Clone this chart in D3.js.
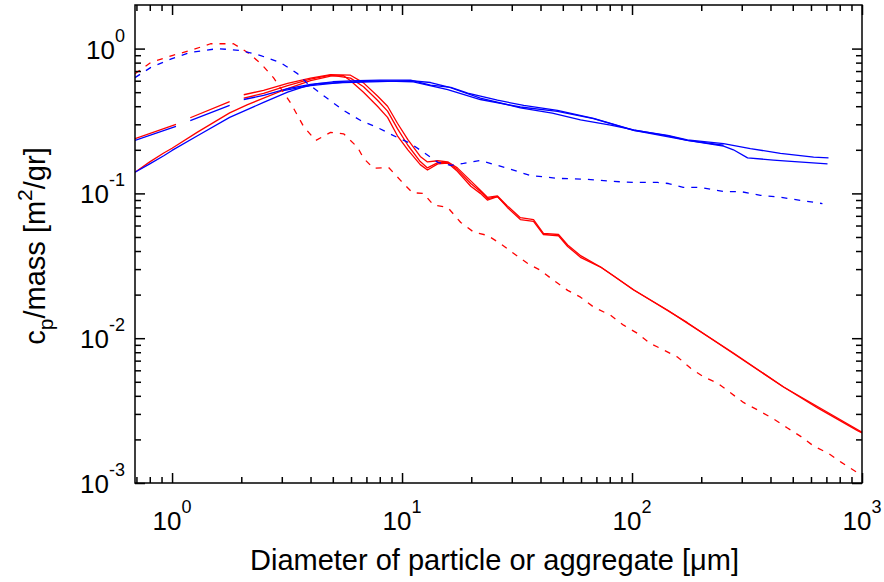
<!DOCTYPE html>
<html>
<head>
<meta charset="utf-8">
<script src="https://cdn.jsdelivr.net/npm/d3@7"></script>
<style>
  html, body { margin: 0; padding: 0; background: #fff; }
  svg { display: block; }
  text { font-family: "Liberation Sans", Arial, Helvetica, sans-serif; fill: #000; }
</style>
</head>
<body>
<svg id="chart" width="884" height="582"></svg>
<script>
// Axis ranges (log-log)
const xDomain = [0.69, 1000];
const yDomain = [0.001, 2];
const xMajorTicks = [1, 10, 100, 1000];
const yMajorTicks = [0.001, 0.01, 0.1, 1];
const xTickExponents = ["0", "1", "2", "3"];
const yTickExponents = ["-3", "-2", "-1", "0"];

// Each series: [diameter in µm, cross-section per mass in m²/gr]; null marks a break in the line
const redSolidLow = [
  [0.69,0.140],[0.80,0.165],[0.92,0.190],[1.00,0.205],[1.29,0.265],[1.78,0.360],[2.13,0.410],
  [2.50,0.455],[3.18,0.530],[4.00,0.600],[4.89,0.645],[5.57,0.650],[5.97,0.600],[6.80,0.500],
  [7.82,0.400],[8.65,0.335],[9.55,0.250],[10.6,0.200],[12.0,0.158],[12.9,0.145],[14.3,0.160],
  [15.8,0.162],[17.4,0.142],[19.9,0.112],[21.9,0.100],[23.5,0.090],[26.0,0.095],[28.7,0.080],
  [32.7,0.066],[37.3,0.064],[41.2,0.052],[47.9,0.051],[52.5,0.043],[60.0,0.036],[73.0,0.031],
  [83.0,0.027],[101.6,0.0215],[143,0.0156],[174,0.0127],[276,0.0079],[456,0.0046],[641,0.0033],
  [956,0.0023],[1000,0.00222]
];
const redSolidUp = [
  [0.69,0.239],[1.04,0.300],null,[1.20,0.333],[1.78,0.430],null,
  [2.05,0.480],[2.50,0.515],[3.18,0.575],[4.00,0.625],[4.89,0.660],[5.97,0.655],[6.80,0.580],
  [7.82,0.470],[8.65,0.400],[9.55,0.305],[10.6,0.235],[12.0,0.180],[12.9,0.165],[14.3,0.168],
  [15.8,0.165],[17.4,0.150],[19.9,0.122],[21.9,0.105],[23.5,0.094],[26.0,0.096],[28.7,0.082],
  [32.7,0.068],[37.3,0.066],[41.2,0.053],[47.9,0.052],[52.5,0.044],[60.0,0.037],[73.0,0.031],
  [101.6,0.0216],[174,0.0128],[456,0.0046],[1000,0.00224]
];
const redSolidMid = [
  [2.05,0.455],[2.50,0.490],[3.18,0.555],[4.00,0.615],[4.89,0.655],[5.97,0.625],[6.80,0.545],
  [7.82,0.440],[8.65,0.370],[9.55,0.280],[10.6,0.215],[12.0,0.166],[12.9,0.150],[14.3,0.163],
  [15.8,0.163],[17.4,0.146],[19.9,0.117],[21.9,0.103],[23.5,0.092],[26.0,0.095],[28.7,0.081]
];
const blueSolidLow = [
  [0.69,0.140],[0.80,0.160],[0.92,0.182],[1.00,0.198],[1.29,0.250],[1.78,0.335],[2.50,0.425],
  [3.18,0.500],[3.73,0.545],[4.29,0.572],[5.57,0.583],[8.00,0.592],[10.9,0.600],[13.3,0.583],
  [15.8,0.545],[21.9,0.455],[32.7,0.390],[45.0,0.358],[59.7,0.322],[80.7,0.296],[101.6,0.275],
  [143,0.250],[174,0.232],[250,0.212],[276,0.200],[318,0.176],[412,0.170],[474,0.167],[708,0.160]
];
const blueSolidUp = [
  [0.69,0.232],[1.04,0.290],null,[1.20,0.318],[1.78,0.405],null,
  [2.05,0.445],[2.50,0.475],[3.18,0.530],[4.00,0.565],[5.00,0.590],[6.40,0.600],[8.00,0.605],
  [10.9,0.605],[13.3,0.560],[16.3,0.540],[19.3,0.492],[26.0,0.440],[33.8,0.405],[47.4,0.374],
  [68.0,0.330],[101.6,0.273],[143,0.252],[174,0.234],[250,0.221],[327,0.204],[442,0.189],
  [616,0.178],[715,0.176]
];
const blueSolidMid = [
  [3.00,0.510],[4.00,0.555],[5.50,0.585],[8.00,0.598],[11.2,0.590],[15.8,0.520],[21.9,0.445],
  [32.7,0.395],[47.4,0.368],[68.0,0.328],[101.6,0.272],[174,0.232],[250,0.215]
];
const redDashed = [
  [0.69,0.670],[0.806,0.800],[1.00,0.895],[1.20,0.970],[1.47,1.080],[1.85,1.080],[2.13,0.940],
  [2.43,0.790],[2.76,0.630],[3.28,0.420],[3.73,0.290],[4.21,0.232],[4.89,0.264],[5.57,0.258],
  [6.41,0.208],[6.80,0.175],[7.52,0.149],[8.74,0.151],[9.85,0.123],[11.1,0.101],[12.4,0.100],
  [13.7,0.083],[15.8,0.080],[18.0,0.063],[20.5,0.054],[23.5,0.0513],[26.8,0.045],[30.5,0.0386],
  [35.1,0.0329],[40.0,0.0294],[45.6,0.0251],[52.5,0.0214],[59.7,0.0192],[68.1,0.0164],
  [80.7,0.0144],[91.9,0.0123],[105.6,0.0108],[120,0.0092],[137,0.0083],[158,0.0074],[180,0.0062],
  [205,0.0054],[235,0.0049],[268,0.0042],[305,0.0036],[351,0.0032],[408,0.0028],[474,0.0024],
  [541,0.0021],[616,0.0018],[715,0.0016],[807,0.0014],[938,0.0012],[1000,0.00112]
];
const blueDashed = [
  [0.69,0.630],[0.806,0.739],[1.00,0.853],[1.20,0.940],[1.58,1.000],[1.99,0.970],[2.43,0.895],
  [2.96,0.800],[3.51,0.672],[3.88,0.574],[4.74,0.452],[5.57,0.374],[6.61,0.319],[7.82,0.285],
  [9.55,0.243],[10.9,0.221],[12.4,0.192],[14.3,0.164],[16.3,0.156],[18.5,0.161],[21.9,0.169],
  [28.7,0.149],[36.2,0.133],[47.4,0.127],[64.0,0.125],[83.0,0.121],[101.6,0.119],[129,0.119],
  [144,0.117],[167,0.110],[199,0.110],[250,0.103],[296,0.103],[362,0.097],[442,0.094],
  [541,0.0895],[673,0.085]
];

const xLabel = "Diameter of particle or aggregate [\u03bcm]";

// Plot box
const boxLeft = 135, boxRight = 862, boxTop = 5, boxBottom = 483;

const svg = d3.select("#chart");
const x = d3.scaleLog().domain(xDomain).range([boxLeft, boxRight]);
const y = d3.scaleLog().domain(yDomain).range([boxBottom, boxTop]);

// minor ticks: 2..9 × each decade inside the domain
function minorTicks(domain) {
  const out = [];
  for (let e = -4; e <= 4; e++) {
    for (let m = 2; m <= 9; m++) {
      const v = m * Math.pow(10, e);
      if (v > domain[0] * 1.0001 && v < domain[1] * 0.9999) out.push(v);
    }
  }
  return out;
}
const xMinor = minorTicks(xDomain);
const yMinor = minorTicks(yDomain);

svg.append("defs").append("clipPath").attr("id", "plotClip")
  .append("rect").attr("x", boxLeft).attr("y", boxTop)
  .attr("width", boxRight - boxLeft).attr("height", boxBottom - boxTop);

const series = [
  { data: redSolidLow, color: "#ff0000", dash: null },
  { data: redSolidMid, color: "#ff0000", dash: null },
  { data: redSolidUp, color: "#ff0000", dash: null },
  { data: blueSolidLow, color: "#0000ff", dash: null },
  { data: blueSolidMid, color: "#0000ff", dash: null },
  { data: blueSolidUp, color: "#0000ff", dash: null },
  { data: redDashed, color: "#ff0000", dash: "6,7" },
  { data: blueDashed, color: "#0000ff", dash: "6,7" }
];

const line = d3.line()
  .defined(d => d !== null)
  .x(d => x(d[0]))
  .y(d => y(d[1]));

const plot = svg.append("g").attr("clip-path", "url(#plotClip)");
series.forEach(s => {
  plot.append("path")
    .attr("d", line(s.data))
    .attr("fill", "none")
    .attr("stroke", s.color)
    .attr("stroke-width", 1.3)
    .attr("stroke-dasharray", s.dash)
    .attr("stroke-linejoin", "round");
});

// inward-pointing ticks on all four sides
function tickGroup(axisFn, scale, values, size, transform) {
  const g = svg.append("g").attr("transform", transform)
    .call(axisFn(scale).tickValues(values).tickSize(-size).tickFormat(""));
  g.select(".domain").remove();
  g.selectAll(".tick line").attr("stroke", "#000").attr("stroke-width", 1.5);
  return g;
}
tickGroup(d3.axisBottom, x, xMajorTicks, 10, `translate(0,${boxBottom})`);
tickGroup(d3.axisBottom, x, xMinor, 6, `translate(0,${boxBottom})`);
tickGroup(d3.axisTop, x, xMajorTicks, 10, `translate(0,${boxTop})`);
tickGroup(d3.axisTop, x, xMinor, 6, `translate(0,${boxTop})`);
tickGroup(d3.axisLeft, y, yMajorTicks, 10, `translate(${boxLeft},0)`);
tickGroup(d3.axisLeft, y, yMinor, 6, `translate(${boxLeft},0)`);
tickGroup(d3.axisRight, y, yMajorTicks, 10, `translate(${boxRight},0)`);
tickGroup(d3.axisRight, y, yMinor, 6, `translate(${boxRight},0)`);

// box
svg.append("rect")
  .attr("x", boxLeft).attr("y", boxTop)
  .attr("width", boxRight - boxLeft).attr("height", boxBottom - boxTop)
  .attr("fill", "none").attr("stroke", "#000").attr("stroke-width", 1.5);

// tick labels as powers of ten
const baseSize = 26, expSize = 18;
xMajorTicks.forEach((v, i) => {
  const t = svg.append("text")
    .attr("x", x(v)).attr("y", boxBottom + 47)
    .attr("text-anchor", "middle")
    .attr("font-size", baseSize);
  t.append("tspan").text("10");
  t.append("tspan").attr("font-size", expSize).attr("dy", -17).text(xTickExponents[i]);
});
yMajorTicks.forEach((v, i) => {
  const t = svg.append("text")
    .attr("x", boxLeft - 10).attr("y", y(v) + 10)
    .attr("text-anchor", "end")
    .attr("font-size", baseSize);
  t.append("tspan").text("10");
  t.append("tspan").attr("font-size", expSize).attr("dy", -17).text(yTickExponents[i]);
});

// axis titles
svg.append("text")
  .attr("x", (boxLeft + boxRight) / 2 - 4).attr("y", 570)
  .attr("text-anchor", "middle")
  .attr("font-size", 29)
  .text(xLabel);

const yt = svg.append("text")
  .attr("transform", `translate(45,${(boxTop + boxBottom) / 2 + 2}) rotate(-90)`)
  .attr("text-anchor", "middle")
  .attr("font-size", 29);
yt.append("tspan").text("c");
yt.append("tspan").attr("font-size", 21).attr("dy", 8).text("p");
yt.append("tspan").attr("dy", -8).text("/mass [m");
yt.append("tspan").attr("font-size", 21).attr("dy", -13).text("2");
yt.append("tspan").attr("dy", 13).text("/gr]");
</script>
</body>
</html>
